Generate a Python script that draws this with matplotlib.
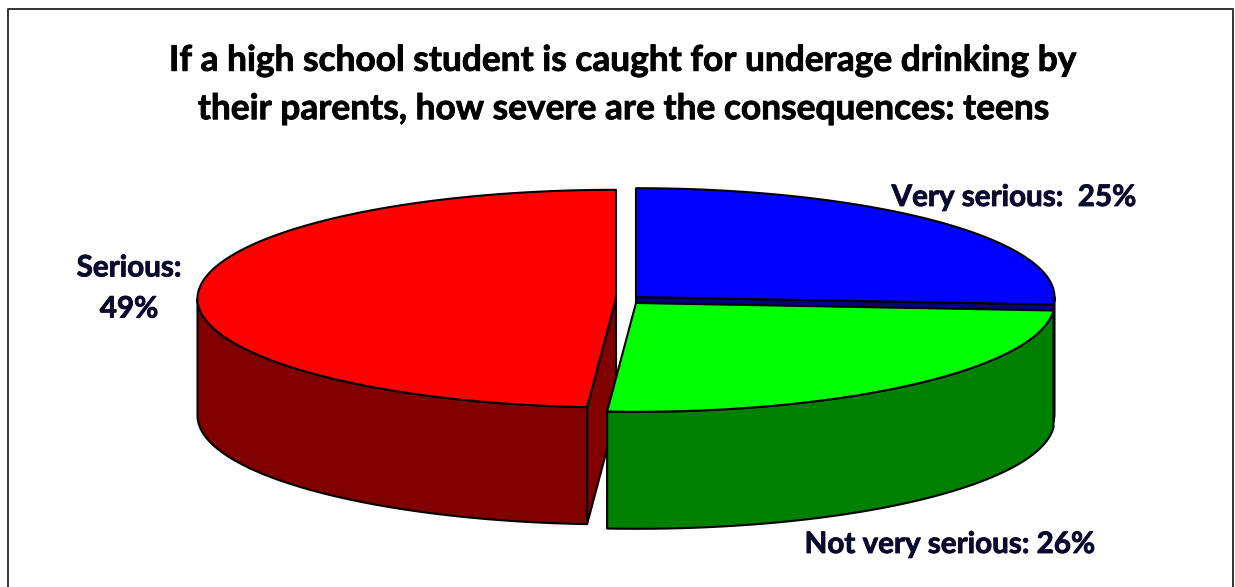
"""
3-D looking exploded pie, drawn as polygons in pixel coordinates of the figure.
"""
import numpy as np
import matplotlib
matplotlib.use("Agg")
import matplotlib.pyplot as plt
import matplotlib.patheffects as pe

W, H = 1235, 587

TITLE = ("If a high school student is caught for underage drinking by\n"
         "their parents, how severe are the consequences: teens")

# rim shares (the printed labels are rounded differently)
names = ["Very serious", "Not very serious", "Serious"]
shares = [26.1, 25.0, 48.9]
label_values = [25, 26, 49]

top_colors = ["#0000FF", "#00FF00", "#FF0000"]
side_colors = ["#000080", "#008000", "#800000"]

# layout, pixels
centers = [(636.0, 297.0), (636.0, 303.0), (616.0, 298.6)]
RX, RY = 418.5, 108.8
DEPTH = 117.0
EDGE = dict(edgecolor="black", linewidth=1.5, joinstyle="round")
TEXT_COLOR = "#0A0A2E"


def rim(center, a0, a1):
    """Points on the ellipse, angles in degrees clockwise from 12 o'clock."""
    n = max(2, int(abs(a1 - a0) / 1.5) + 2)
    t = np.radians(np.linspace(a0, a1, n))
    return np.column_stack([center[0] + RX * np.sin(t), center[1] - RY * np.cos(t)])


def outer_wall(ax, center, a0, a1, color):
    """Extruded outer side, only the part of the rim that faces the viewer."""
    a0, a1 = max(a0, 90), min(a1, 270)
    if a1 <= a0:
        return
    r = rim(center, a0, a1)
    ax.fill(*np.vstack([r, (r + [0, DEPTH])[::-1]]).T, facecolor=color, **EDGE)


def cut_wall(ax, center, angle, color):
    """Extruded radial cut of a slice."""
    p = rim(center, angle, angle)[0]
    c = np.array(center)
    pts = np.array([c, p, p + [0, DEPTH], c + [0, DEPTH]])
    ax.fill(pts[:, 0], pts[:, 1], facecolor=color, **EDGE)


def top_face(ax, center, a0, a1, color):
    r = rim(center, a0, a1)
    ax.fill(*np.vstack([center, r]).T, facecolor=color, **EDGE)


def bold_text(ax, x, y, s, size, color, spacing=1.2):
    t = ax.text(x, y, s, ha="center", va="center", fontsize=size, fontweight="bold",
                color=color, linespacing=spacing)
    # Lato bold is a bit lighter than the original face
    t.set_path_effects([pe.withStroke(linewidth=0.6, foreground=color)])
    return t


fig = plt.figure(figsize=(W / 100, H / 100), dpi=100)
plt.rcParams["font.family"] = ["Lato", "DejaVu Sans"]
ax = fig.add_axes([0, 0, 1, 1])
ax.set_xlim(0, W)
ax.set_ylim(H, 0)
ax.axis("off")

# chart frame, runs off the bottom of the picture
ax.plot([7.5, 7.5, 1233, 1233], [H + 5, 8.5, 8.5, H + 5], color="#333333", linewidth=1.4)

edges = np.concatenate([[0], np.cumsum(shares)]) / np.sum(shares) * 360
blue, green, red = 0, 1, 2

# back to front
outer_wall(ax, centers[blue], edges[0], edges[1], side_colors[blue])
cut_wall(ax, centers[blue], edges[1], side_colors[blue])
top_face(ax, centers[blue], edges[0], edges[1], top_colors[blue])

cut_wall(ax, centers[red], edges[2], side_colors[red])
outer_wall(ax, centers[red], edges[2], edges[3], side_colors[red])
top_face(ax, centers[red], edges[2], edges[3], top_colors[red])

outer_wall(ax, centers[green], edges[1], edges[2], side_colors[green])
top_face(ax, centers[green], edges[1], edges[2], top_colors[green])

bold_text(ax, 623, 85, TITLE, 25.4, "black", spacing=1.63)
bold_text(ax, 1014, 197, f"{names[0]}:  {label_values[0]}%", 21.3, TEXT_COLOR)
bold_text(ax, 950, 544, f"{names[1]}: {label_values[1]}%", 21.3, TEXT_COLOR)
bold_text(ax, 129, 288, f"{names[2]}:\n{label_values[2]}%", 21.3, TEXT_COLOR, spacing=1.57)

fig.savefig("out.png", dpi=100)
